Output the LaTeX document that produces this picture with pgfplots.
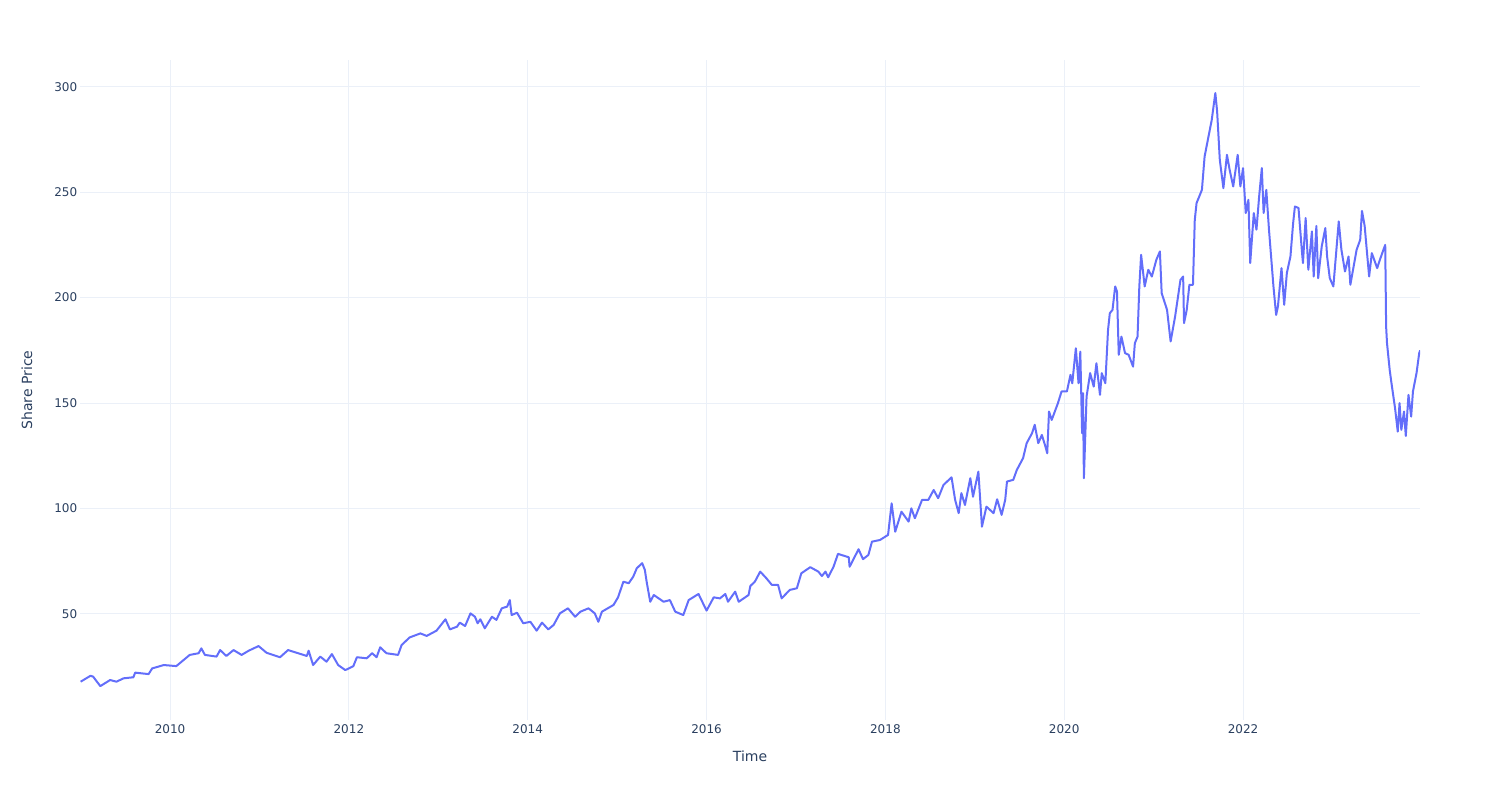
\documentclass[border=0pt]{standalone}
\usepackage{fontspec}
\setmainfont{DejaVu Sans}
\usepackage{pgfplots}
\pgfplotsset{compat=1.18}
\definecolor{serieblue}{HTML}{636EFA}
\definecolor{gridc}{HTML}{EBF0F8}
\definecolor{txt}{HTML}{2A3F5F}
\pgfplotstableread{
x y
2009.00 17.9
2009.11 20.7
2009.14 20.3
2009.22 15.8
2009.33 18.7
2009.40 17.9
2009.48 19.5
2009.59 20.0
2009.61 22.2
2009.76 21.5
2009.80 24.2
2009.93 25.8
2010.07 25.3
2010.22 30.6
2010.32 31.4
2010.35 33.7
2010.39 30.6
2010.52 29.8
2010.56 32.9
2010.63 30.1
2010.71 32.9
2010.80 30.6
2010.88 32.6
2010.99 34.8
2011.08 31.6
2011.23 29.5
2011.32 32.9
2011.53 30.1
2011.55 32.6
2011.60 25.8
2011.68 29.8
2011.75 27.4
2011.81 31.0
2011.88 25.8
2011.96 23.4
2012.05 25.3
2012.09 29.5
2012.20 29.0
2012.26 31.4
2012.31 29.5
2012.35 34.2
2012.42 31.4
2012.55 30.6
2012.59 35.3
2012.68 38.9
2012.80 40.8
2012.87 39.6
2012.98 42.1
2013.08 47.5
2013.13 42.7
2013.21 44.0
2013.24 45.9
2013.30 44.3
2013.36 50.3
2013.41 48.7
2013.44 45.6
2013.47 47.5
2013.52 43.2
2013.60 48.7
2013.65 47.2
2013.71 52.7
2013.77 53.5
2013.80 56.6
2013.82 49.5
2013.88 50.6
2013.95 45.6
2014.03 46.3
2014.10 42.1
2014.16 45.9
2014.23 42.7
2014.29 44.8
2014.36 50.3
2014.45 52.7
2014.53 48.7
2014.59 51.1
2014.68 52.7
2014.75 50.3
2014.79 46.3
2014.83 51.1
2014.96 54.3
2015.01 57.9
2015.07 65.3
2015.13 64.6
2015.18 67.7
2015.22 71.7
2015.28 74.1
2015.31 70.9
2015.33 65.3
2015.37 55.8
2015.41 59.0
2015.52 55.8
2015.59 56.6
2015.65 51.1
2015.74 49.5
2015.80 56.6
2015.91 59.5
2016.00 51.6
2016.08 57.9
2016.15 57.4
2016.21 59.5
2016.24 55.8
2016.32 60.6
2016.36 55.8
2016.47 59.0
2016.49 63.3
2016.54 65.3
2016.60 70.1
2016.67 66.9
2016.73 63.8
2016.80 63.8
2016.84 57.4
2016.93 61.4
2017.01 62.2
2017.06 69.3
2017.16 72.2
2017.25 70.1
2017.29 68.0
2017.33 70.1
2017.36 67.4
2017.42 72.4
2017.47 78.5
2017.59 76.9
2017.60 72.4
2017.70 80.7
2017.72 78.8
2017.75 76.0
2017.81 78.0
2017.85 84.3
2017.94 85.1
2018.03 87.5
2018.07 102.5
2018.11 89.0
2018.18 98.5
2018.26 93.8
2018.29 100.1
2018.33 95.4
2018.41 104.1
2018.48 104.1
2018.54 108.8
2018.59 104.9
2018.65 111.2
2018.74 114.8
2018.78 104.1
2018.82 97.8
2018.85 107.3
2018.89 101.7
2018.95 114.4
2018.98 105.6
2019.04 117.5
2019.08 91.4
2019.13 100.9
2019.21 97.8
2019.25 104.4
2019.30 97.0
2019.34 104.1
2019.36 112.8
2019.43 113.6
2019.47 118.3
2019.54 123.9
2019.58 131.0
2019.64 135.7
2019.67 139.7
2019.71 131.0
2019.75 134.9
2019.79 129.4
2019.81 126.2
2019.83 146.0
2019.86 142.0
2019.93 150.0
2019.97 155.5
2020.03 155.5
2020.07 163.4
2020.09 159.4
2020.13 176.0
2020.16 159.4
2020.18 174.4
2020.20 135.7
2020.21 154.7
2020.22 114.4
2020.25 153.1
2020.29 164.2
2020.33 157.8
2020.36 168.9
2020.40 153.9
2020.42 164.2
2020.46 159.4
2020.49 184.7
2020.51 192.6
2020.54 194.2
2020.57 205.3
2020.59 202.9
2020.61 172.9
2020.64 181.5
2020.68 173.7
2020.72 172.9
2020.77 167.3
2020.79 178.4
2020.82 181.5
2020.84 205.3
2020.86 220.3
2020.90 205.3
2020.94 213.2
2020.98 210.0
2021.03 217.9
2021.07 221.9
2021.09 202.1
2021.15 194.2
2021.19 179.2
2021.24 191.0
2021.30 208.4
2021.33 210.0
2021.34 187.9
2021.37 194.2
2021.40 206.1
2021.44 206.1
2021.46 236.8
2021.48 244.8
2021.54 251.1
2021.57 266.9
2021.61 275.6
2021.65 284.3
2021.69 297.0
2021.71 288.3
2021.74 265.3
2021.78 251.9
2021.82 267.7
2021.85 260.6
2021.89 252.7
2021.94 267.7
2021.97 252.7
2022.00 261.4
2022.03 240.1
2022.06 246.4
2022.08 216.4
2022.12 240.1
2022.15 232.2
2022.18 248.0
2022.21 261.4
2022.23 240.1
2022.26 251.1
2022.29 232.2
2022.34 205.3
2022.37 191.8
2022.39 195.8
2022.43 214.0
2022.46 196.6
2022.49 211.7
2022.53 219.5
2022.56 235.3
2022.58 243.2
2022.62 242.5
2022.66 221.1
2022.67 216.4
2022.70 237.7
2022.73 213.2
2022.77 231.4
2022.79 210.0
2022.82 234.0
2022.84 209.2
2022.88 224.3
2022.92 233.0
2022.94 219.5
2022.97 209.2
2023.01 205.3
2023.07 236.1
2023.10 222.7
2023.14 212.4
2023.18 219.5
2023.20 206.1
2023.23 213.2
2023.27 222.7
2023.31 227.4
2023.33 241.1
2023.36 234.0
2023.38 224.3
2023.41 210.0
2023.44 221.1
2023.50 214.0
2023.53 217.9
2023.57 222.7
2023.59 225.0
2023.60 186.3
2023.61 178.4
2023.64 165.7
2023.66 159.4
2023.70 147.6
2023.73 136.5
2023.75 150.0
2023.77 137.3
2023.80 146.0
2023.82 134.4
2023.85 153.9
2023.88 143.6
2023.90 155.5
2023.94 164.2
2023.97 173.7
2023.98 175.0
}\pricedata
\begin{document}
\begin{tikzpicture}
\path[use as bounding box] (0pt,0pt) rectangle (750pt,400pt);
\begin{axis}[
  at={(40pt,40pt)}, anchor=south west,
  scale only axis, width=670pt, height=330pt,
  xmin=2008.993, xmax=2023.979,
  ymin=-0.26, ymax=312.66,
  axis line style={draw=none},
  major tick length=0pt, tick style={draw=none},
  xtick={2010,2012,2014,2016,2018,2020,2022},
  ytick={50,100,150,200,250,300},
  grid=major,
  major grid style={draw=gridc, line width=0.5pt},
  /pgf/number format/assume math mode=true,
  /pgf/number format/1000 sep={},
  xticklabel style={font=\fontsize{6}{7}\selectfont, text=txt, anchor=north, inner sep=0pt, yshift=-1.9pt},
  yticklabel style={font=\fontsize{6}{7}\selectfont, text=txt, anchor=east, inner sep=0pt, xshift=-1.2pt},
  xlabel={Time},
  ylabel={Share Price},
  xlabel style={font=\fontsize{7}{8}\selectfont, text=txt, at={(axis description cs:0.5,-0.0545)}, anchor=center, inner sep=0pt},
  ylabel style={font=\fontsize{7}{8}\selectfont, text=txt, at={(axis description cs:-0.0396,0.5)}, anchor=center, inner sep=0pt},
]
\addplot[serieblue, line width=1pt, line join=round, mark=none] table[x=x, y=y] {\pricedata};
\end{axis}
\end{tikzpicture}
\end{document}
